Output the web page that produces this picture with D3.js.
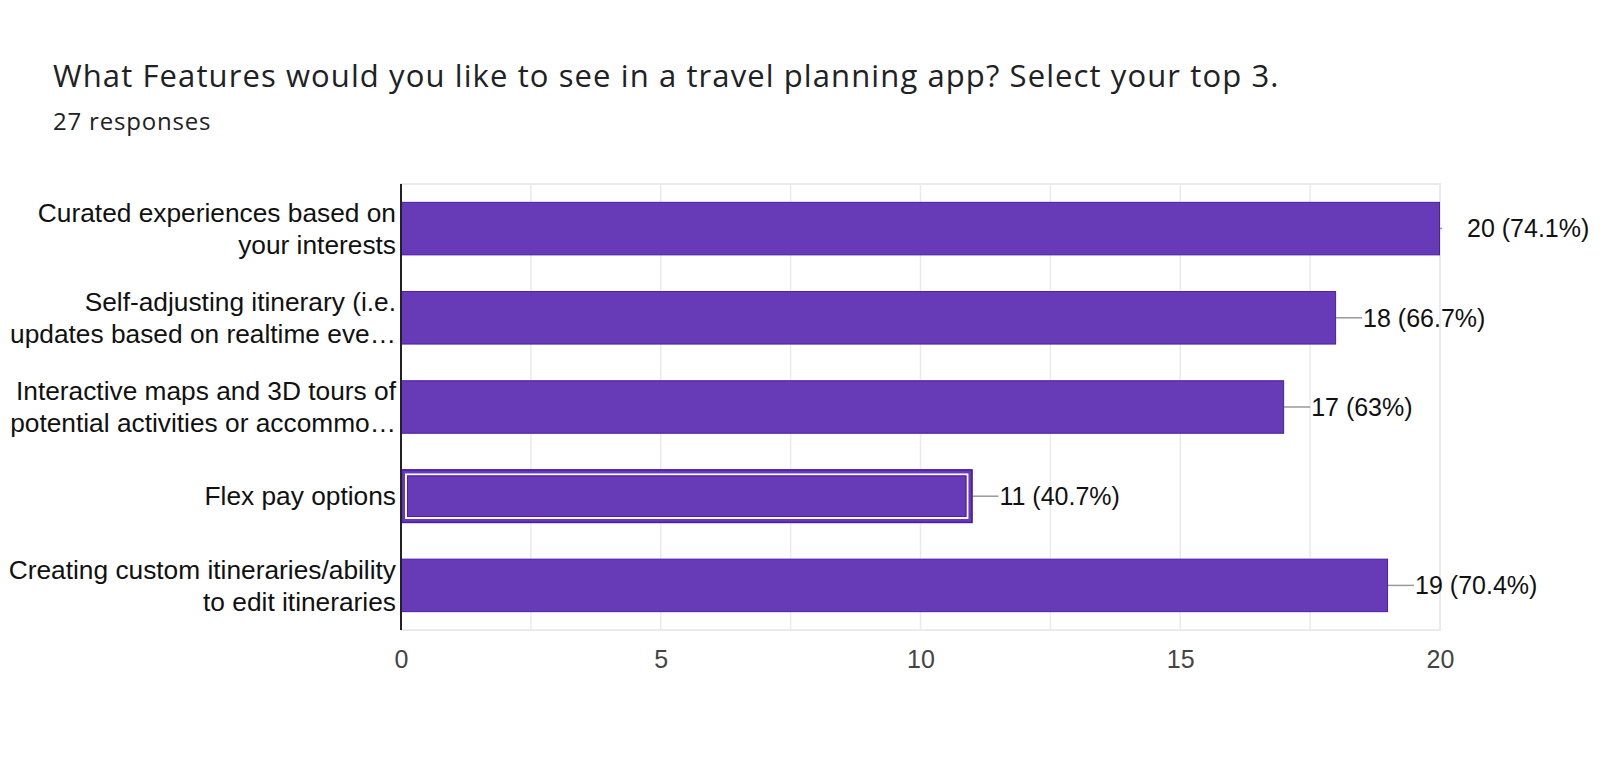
<!DOCTYPE html>
<html>
<head>
<meta charset="utf-8">
<script src="https://cdn.jsdelivr.net/npm/d3@7"></script>
<style>
  html, body { margin: 0; padding: 0; background: #fff; }
  svg { display: block; }
</style>
</head>
<body>
<svg id="chart" width="1600" height="761"></svg>
<script>
// ---- data ----
const titleText = "What Features would you like to see in a travel planning app? Select your top 3.";
const subtitleText = "27 responses";
const categories = [
  "Curated experiences based on\nyour interests",
  "Self-adjusting itinerary (i.e.\nupdates based on realtime eve…",
  "Interactive maps and 3D tours of\npotential activities or accommo…",
  "Flex pay options",
  "Creating custom itineraries/ability\nto edit itineraries"
];
const counts = [20, 18, 17, 11, 19];
const valueLabels = ["20 (74.1%)", "18 (66.7%)", "17 (63%)", "11 (40.7%)", "19 (70.4%)"];
const tickValues = [0, 5, 10, 15, 20];
const gridValues = [2.5, 5, 7.5, 10, 12.5, 15, 17.5, 20];
const highlighted = [3];

// ---- layout ----
const svg = d3.select("#chart");
const plot = { left: 401, right: 1440, top: 184, bottom: 630 };
const purple = "#673ab7";
const purpleDark = "#4e1ca8";

const x = d3.scaleLinear().domain([0, 20]).range([plot.left, plot.right]);
const y = d3.scaleBand().domain(d3.range(categories.length))
  .range([plot.top, plot.bottom]).paddingInner(0.4).paddingOuter(0.2);

// title
svg.append("text").attr("x", 53).attr("y", 87)
  .attr("font-family", "'Open Sans', Roboto, sans-serif").attr("font-size", 31)
  .attr("letter-spacing", 1.1)
  .attr("fill", "#202124").text(titleText);
svg.append("text").attr("x", 53).attr("y", 130)
  .attr("font-family", "'Open Sans', Roboto, sans-serif").attr("font-size", 24)
  .attr("letter-spacing", 0.8)
  .attr("fill", "#202124").text(subtitleText);

// plot border (light)
svg.append("rect").attr("x", plot.left).attr("y", plot.top)
  .attr("width", plot.right - plot.left).attr("height", plot.bottom - plot.top)
  .attr("fill", "none").attr("stroke", "#ebebeb").attr("stroke-width", 2);

// gridlines
svg.append("g").selectAll("line").data(gridValues).join("line")
  .attr("x1", d => x(d)).attr("x2", d => x(d))
  .attr("y1", plot.top).attr("y2", plot.bottom)
  .attr("stroke", "#ebebeb").attr("stroke-width", d => d === 20 ? 2 : 1.5);

// clip for leader lines
svg.append("clipPath").attr("id", "plotclip").append("rect")
  .attr("x", 0).attr("y", 0).attr("width", plot.right + 2).attr("height", 761);

// leader lines
svg.append("g").attr("clip-path", "url(#plotclip)").selectAll("line").data(counts).join("line")
  .attr("x1", d => x(d)).attr("x2", d => x(d) + 26)
  .attr("y1", (d, i) => y(i) + y.bandwidth() / 2).attr("y2", (d, i) => y(i) + y.bandwidth() / 2)
  .attr("stroke", "#999").attr("stroke-width", 1.5);

// bars
const bars = svg.append("g");
bars.selectAll("rect.bar").data(counts).join("rect").attr("class", "bar")
  .attr("x", x(0) + 0.5).attr("y", (d, i) => y(i) + 0.5)
  .attr("width", d => x(d) - x(0) - 1).attr("height", y.bandwidth() - 1)
  .attr("fill", purple).attr("stroke", purpleDark).attr("stroke-width", 1);

// highlight ring on focused bar
highlighted.forEach(i => {
  const bx = x(0), by = y(i), bw = x(counts[i]) - x(0), bh = y.bandwidth();
  bars.append("rect").attr("x", bx + 5).attr("y", by + 5)
    .attr("width", bw - 10).attr("height", bh - 10)
    .attr("fill", "none").attr("stroke", "#fff").attr("stroke-width", 2);
  bars.append("rect").attr("x", bx + 6.5).attr("y", by + 6.5)
    .attr("width", bw - 13).attr("height", bh - 13)
    .attr("fill", "none").attr("stroke", purpleDark).attr("stroke-width", 1);
  bars.append("rect").attr("x", bx + 0.5).attr("y", by + 0.5)
    .attr("width", bw - 1).attr("height", bh - 1)
    .attr("fill", "none").attr("stroke", purpleDark).attr("stroke-width", 1.5);
});

// value labels
svg.append("g").selectAll("text").data(valueLabels).join("text")
  .attr("x", (d, i) => x(counts[i]) + 27)
  .attr("y", (d, i) => y(i) + y.bandwidth() / 2)
  .attr("dy", "0.35em")
  .attr("font-family", "Arial, 'Liberation Sans', sans-serif").attr("font-size", 25)
  .attr("fill", "#111").text(d => d);

// y axis line
svg.append("line").attr("x1", plot.left).attr("x2", plot.left)
  .attr("y1", plot.top).attr("y2", plot.bottom)
  .attr("stroke", "#222").attr("stroke-width", 2);

// category labels
const lineH = 32;
const catG = svg.append("g");
categories.forEach((c, i) => {
  const lines = c.split("\n");
  const cy = y(i) + y.bandwidth() / 2;
  const t = catG.append("text")
    .attr("font-family", "Arial, 'Liberation Sans', sans-serif").attr("font-size", 26.3)
    .attr("fill", "#111").attr("text-anchor", "end");
  lines.forEach((ln, k) => {
    t.append("tspan").attr("x", 396)
      .attr("y", cy + (k - (lines.length - 1) / 2) * lineH)
      .attr("dy", "0.35em").text(ln);
  });
});

// x axis tick labels
const xAxis = d3.axisBottom(x).tickValues(tickValues).tickSize(0).tickPadding(20);
const gx = svg.append("g").attr("transform", `translate(0,${plot.bottom})`).call(xAxis);
gx.select(".domain").remove();
gx.selectAll("text").attr("font-family", "Arial, 'Liberation Sans', sans-serif")
  .attr("font-size", 25).attr("fill", "#444");
</script>
</body>
</html>
